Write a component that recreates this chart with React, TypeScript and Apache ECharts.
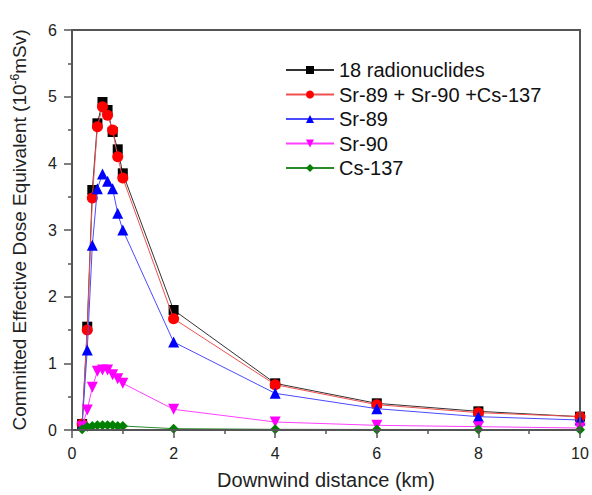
import React, { useEffect, useRef } from "react";
import * as echarts from "echarts";

const distances = [0.2, 0.3, 0.4, 0.5, 0.6, 0.7, 0.8, 0.9, 1.0, 2, 4, 6, 8, 10];
const total18 = [0.09, 1.55, 3.6, 4.6, 4.92, 4.8, 4.47, 4.21, 3.85, 1.8, 0.7, 0.4, 0.28, 0.2];
const srSrCs = [0.09, 1.5, 3.48, 4.55, 4.85, 4.72, 4.5, 4.1, 3.78, 1.67, 0.68, 0.38, 0.26, 0.2];
const sr89 = [0.08, 1.2, 2.77, 3.62, 3.84, 3.73, 3.62, 3.25, 3.0, 1.32, 0.55, 0.32, 0.2, 0.15];
const sr90 = [0.05, 0.3, 0.64, 0.88, 0.9, 0.9, 0.83, 0.77, 0.7, 0.31, 0.12, 0.07, 0.05, 0.03];
const cs137 = [0.01, 0.05, 0.06, 0.07, 0.07, 0.07, 0.07, 0.06, 0.06, 0.02, 0.01, 0.008, 0.006, 0.005];

const seriesNames = ["18 radionuclides", "Sr-89 + Sr-90 +Cs-137", "Sr-89", "Sr-90", "Cs-137"];
const seriesValues = [total18, srSrCs, sr89, sr90, cs137];
const markerColors = ["#000000", "#ff0000", "#0000ff", "#ff00ff", "#008000"];
const lineColors = ["#333333", "#f05050", "#4a4aff", "#ff40ff", "#2a8a2a"];
const symbols = ["rect", "circle", "triangle", "triangle", "diamond"];
const symbolRotates = [0, 0, 0, 180, 0];
const symbolSizes = [10, 11, 11, 11, 10];

const xTicks = { min: 0, max: 10, interval: 2 };
const yTicks = { min: 0, max: 6, interval: 1 };

const FONT = "Liberation Sans, Arial, sans-serif";
const AX = "#555555";

function finishAnimations(chart: any) {
  try {
    const zr = chart.getZr();
    const walk = (el: any) => {
      if (el && el.stopAnimation) el.stopAnimation(null, true);
      if (el && el.eachChild) el.eachChild(walk);
    };
    zr.storage.getRoots().forEach(walk);
    zr.refreshImmediately();
  } catch (e) {
    /* ignore */
  }
}

export default function App() {
  const ref = useRef<HTMLDivElement>(null);
  useEffect(() => {
    if (!ref.current) return;
    const chart = echarts.init(ref.current, undefined, { renderer: "svg" });
    const axisLine = () => ({ show: true, onZero: false, lineStyle: { color: AX, width: 2 } });
    const tick = () => ({ show: true, length: 8, lineStyle: { color: AX, width: 1.5 } });
    const minor = () => ({ show: true, splitNumber: 2, length: 4, lineStyle: { color: AX, width: 1.5 } });
    const label = () => ({ fontFamily: FONT, fontSize: 16, color: "#222222", margin: 15 });
    const option: any = {
      animation: false,
      animationDuration: 0,
      animationDurationUpdate: 0,
      stateAnimation: { duration: 0 },
      grid: { left: 72, right: 12, top: 30, bottom: 62, show: true, borderColor: AX, borderWidth: 2 },
      legend: {
        orient: "vertical",
        left: 285,
        top: 60,
        padding: 0,
        itemWidth: 48,
        itemHeight: 10,
        itemGap: 4.5,
        data: seriesNames,
        textStyle: { fontFamily: FONT, fontSize: 20, color: "#111111", lineHeight: 20 },
      },
      xAxis: [
        {
          type: "value",
          position: "bottom",
          min: xTicks.min,
          max: xTicks.max,
          interval: xTicks.interval,
          name: "Downwind distance (km)",
          nameLocation: "middle",
          nameGap: 40,
          nameTextStyle: { fontFamily: FONT, fontSize: 20, color: "#222222" },
          axisLine: axisLine(),
          axisTick: tick(),
          minorTick: minor(),
          axisLabel: label(),
          splitLine: { show: false },
          z: 10,
        },
        {
          type: "value",
          position: "top",
          min: xTicks.min,
          max: xTicks.max,
          interval: xTicks.interval,
          axisLine: axisLine(),
          axisTick: { show: false },
          axisLabel: { show: false },
          splitLine: { show: false },
          z: 10,
        },
      ],
      yAxis: [
        {
          type: "value",
          position: "left",
          min: yTicks.min,
          max: yTicks.max,
          interval: yTicks.interval,
          name: "Committed Effective Dose Equivalent (10{sup|-6}mSv)",
          nameLocation: "middle",
          nameGap: 43,
          nameTextStyle: {
            fontFamily: FONT,
            fontSize: 19,
            color: "#222222",
            rich: { sup: { fontFamily: FONT, fontSize: 12, color: "#222222", verticalAlign: "top", padding: [0, 0, 8, 0] } },
          },
          axisLine: axisLine(),
          axisTick: tick(),
          minorTick: minor(),
          axisLabel: label(),
          splitLine: { show: false },
          z: 10,
        },
        {
          type: "value",
          position: "right",
          min: yTicks.min,
          max: yTicks.max,
          interval: yTicks.interval,
          axisLine: axisLine(),
          axisTick: { show: false },
          axisLabel: { show: false },
          splitLine: { show: false },
          z: 10,
        },
      ],
      series: seriesNames.map((name, i) => ({
        name,
        type: "line",
        xAxisIndex: 0,
        yAxisIndex: 0,
        data: distances.map((d, j) => [d, seriesValues[i][j]]),
        symbol: symbols[i],
        symbolSize: symbolSizes[i],
        symbolRotate: symbolRotates[i],
        showAllSymbol: true,
        itemStyle: { color: markerColors[i] },
        lineStyle: { color: lineColors[i], width: 1 },
        z: 2 + i,
      })),
    };
    chart.setOption(option);
    finishAnimations(chart);
    const raf = requestAnimationFrame(() => finishAnimations(chart));
    return () => {
      cancelAnimationFrame(raf);
      chart.dispose();
    };
  }, []);
  return <div ref={ref} style={{ position: "absolute", left: 0, top: 0, width: 592, height: 495, background: "#ffffff" }} />;
}
